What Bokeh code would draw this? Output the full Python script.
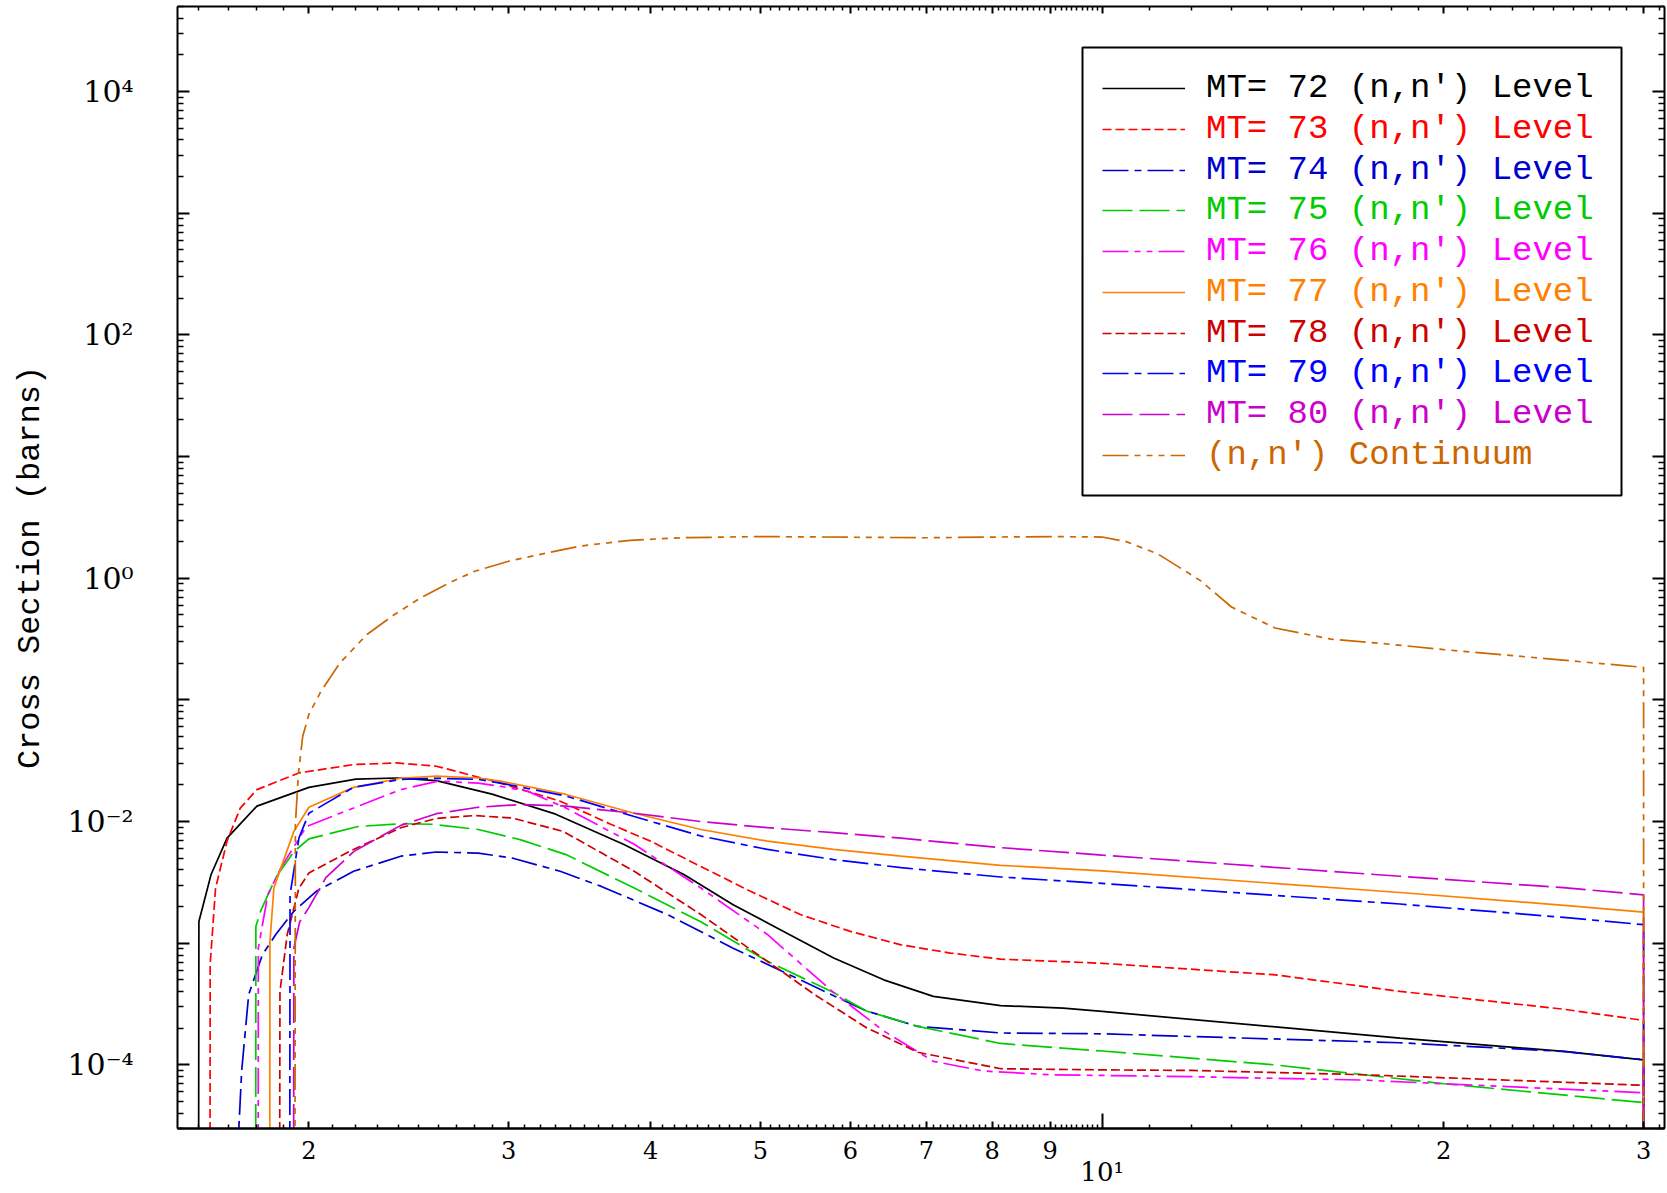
from bokeh.plotting import figure
from bokeh.models import (Range1d, LogAxis, FixedTicker, Legend, LegendItem,
                          BoxAnnotation)
from bokeh.embed import file_html
from bokeh.resources import INLINE

# ---------------- data ----------------
mt72_x = [1.598, 1.600, 1.640, 1.694, 1.80, 2.00, 2.20, 2.39, 2.59, 2.90, 3.30, 3.79, 4.28, 4.73, 5.24, 5.80, 6.42, 7.10, 8.14, 9.24, 10.0, 18.3, 25.5, 30.0, 30.0]
mt72_y = [1e-7, 1.51e-3, 3.67e-3, 7.3e-3, 1.34e-2, 1.91e-2, 2.23e-2, 2.28e-2, 2.17e-2, 1.68e-2, 1.15e-2, 6.47e-3, 3.67e-3, 2.07e-3, 1.25e-3, 7.55e-4, 5.0e-4, 3.66e-4, 3.07e-4, 2.93e-4, 2.75e-4, 1.66e-4, 1.29e-4, 1.1e-4, 1e-7]

mt73_x = [1.636, 1.637, 1.655, 1.694, 1.74, 1.80, 1.96, 2.19, 2.39, 2.59, 2.91, 3.33, 3.69, 4.0, 4.43, 4.9, 5.42, 6.0, 6.65, 7.35, 8.14, 10.0, 14.2, 18.3, 25.5, 30.0, 30.0]
mt73_y = [1e-7, 6.7e-4, 2.84e-3, 6.9e-3, 1.29e-2, 1.83e-2, 2.51e-2, 2.94e-2, 3.03e-2, 2.85e-2, 2.15e-2, 1.47e-2, 9.5e-3, 6.9e-3, 4.27e-3, 2.67e-3, 1.72e-3, 1.25e-3, 9.7e-4, 8.3e-4, 7.4e-4, 6.84e-4, 5.5e-4, 4.02e-4, 2.87e-4, 2.32e-4, 1e-7]

mt74_x = [1.733, 1.735, 1.745, 1.77, 1.82, 1.87, 1.94, 2.03, 2.19, 2.41, 2.59, 2.82, 3.02, 3.33, 3.62, 4.14, 4.73, 5.24, 5.80, 6.20, 6.88, 8.14, 10.0, 18.3, 25.5, 30.0, 30.0]
mt74_y = [1e-7, 3e-5, 8.9e-5, 3.78e-4, 8.05e-4, 1.18e-3, 1.83e-3, 2.67e-3, 3.9e-3, 5.19e-3, 5.62e-3, 5.5e-3, 5.02e-3, 3.9e-3, 2.93e-3, 1.72e-3, 9.1e-4, 5.8e-4, 3.7e-4, 2.77e-4, 2.07e-4, 1.83e-4, 1.8e-4, 1.52e-4, 1.29e-4, 1.1e-4, 1e-7]

mt75_x = [1.795, 1.796, 1.813, 1.87, 1.94, 2.00, 2.21, 2.41, 2.57, 2.82, 3.07, 3.37, 3.87, 4.43, 5.07, 5.80, 6.20, 6.88, 8.14, 10.0, 14.2, 17.0, 20.0, 30.0, 30.0]
mt75_y = [1e-7, 1.37e-3, 1.83e-3, 3.46e-3, 5.66e-3, 7.2e-3, 9.1e-3, 9.6e-3, 9.5e-3, 8.6e-3, 7.1e-3, 5.35e-3, 2.84e-3, 1.5e-3, 7.1e-4, 3.93e-4, 2.77e-4, 2.07e-4, 1.5e-4, 1.3e-4, 1.0e-4, 8.3e-5, 7.0e-5, 4.9e-5, 1e-7]

mt76_x = [1.804, 1.805, 1.84, 1.89, 1.99, 2.17, 2.41, 2.60, 2.82, 2.95, 3.12, 3.37, 3.87, 4.43, 5.07, 5.80, 6.42, 7.10, 7.86, 9.0, 12.0, 17.0, 20.0, 30.0, 30.0]
mt76_y = [1e-7, 9.1e-4, 2.5e-3, 4.18e-3, 9.1e-3, 1.25e-2, 1.83e-2, 2.15e-2, 2.07e-2, 1.95e-2, 1.77e-2, 1.29e-2, 6.5e-3, 2.84e-3, 1.18e-3, 3.93e-4, 1.9e-4, 1.07e-4, 8.9e-5, 8.3e-5, 8.0e-5, 7.5e-5, 7.0e-5, 5.9e-5, 1e-7]

mt77_x = [1.847, 1.848, 1.863, 1.89, 1.94, 2.00, 2.19, 2.41, 2.59, 2.82, 2.95, 3.37, 3.87, 4.43, 5.07, 5.80, 6.65, 8.14, 10.0, 18.3, 25.7, 30.0, 30.0]
mt77_y = [1e-7, 1.03e-3, 2.84e-3, 4.18e-3, 8.3e-3, 1.31e-2, 1.91e-2, 2.27e-2, 2.36e-2, 2.28e-2, 2.15e-2, 1.67e-2, 1.17e-2, 8.6e-3, 6.9e-3, 5.9e-3, 5.2e-3, 4.37e-3, 3.93e-3, 2.61e-3, 2.04e-3, 1.8e-3, 1e-7]

mt78_x = [1.883, 1.886, 1.914, 1.96, 2.00, 2.17, 2.41, 2.59, 2.80, 3.02, 3.35, 3.87, 4.43, 5.07, 5.60, 6.20, 6.88, 8.14, 10.0, 12.0, 17.0, 30.0, 30.0]
mt78_y = [1e-7, 4e-4, 1.18e-3, 2.84e-3, 3.78e-3, 5.66e-3, 8.9e-3, 1.06e-2, 1.12e-2, 1.07e-2, 8.3e-3, 3.9e-3, 1.72e-3, 7.1e-4, 3.7e-4, 2.02e-4, 1.27e-4, 9.3e-5, 9.1e-5, 9.0e-5, 8.3e-5, 6.8e-5, 1e-7]

mt79_x = [1.923, 1.925, 1.96, 2.00, 2.19, 2.41, 2.59, 2.82, 2.95, 3.37, 3.87, 4.43, 5.07, 5.80, 6.65, 8.14, 10.0, 18.3, 25.5, 30.0, 30.0]
mt79_y = [1e-7, 2.5e-3, 7.3e-3, 1.17e-2, 1.91e-2, 2.22e-2, 2.27e-2, 2.22e-2, 2.07e-2, 1.62e-2, 1.10e-2, 7.6e-3, 5.9e-3, 4.87e-3, 4.18e-3, 3.5e-3, 3.1e-3, 2.1e-3, 1.63e-3, 1.42e-3, 1e-7]

mt80_x = [1.938, 1.940, 1.963, 2.00, 2.07, 2.19, 2.41, 2.59, 2.82, 3.07, 3.37, 3.87, 4.43, 5.07, 5.80, 6.65, 8.14, 10.0, 18.3, 25.5, 30.0, 30.0]
mt80_y = [1e-7, 9.1e-4, 1.5e-3, 1.96e-3, 3.46e-3, 5.66e-3, 9.3e-3, 1.16e-2, 1.31e-2, 1.38e-2, 1.34e-2, 1.17e-2, 1.0e-2, 8.9e-3, 8.1e-3, 7.3e-3, 6.1e-3, 5.3e-3, 3.55e-3, 2.86e-3, 2.5e-3, 1e-7]

cont_x = [1.943, 1.946, 1.958, 1.975, 2.00, 2.05, 2.13, 2.25, 2.38, 2.51, 2.66, 2.80, 3.00, 3.25, 3.47, 3.84, 4.25, 5.0, 7.0, 9.0, 10.0, 10.5, 11.2, 12.2, 13.0, 14.2, 15.9, 17.7, 20.0, 24.4, 30.0, 30.0]
cont_y = [1e-7, 9.5e-3, 2.5e-2, 5.0e-2, 7.6e-2, 0.118, 0.201, 0.345, 0.504, 0.69, 0.917, 1.14, 1.38, 1.62, 1.84, 2.05, 2.15, 2.2, 2.15, 2.2, 2.18, 2.0, 1.58, 0.96, 0.58, 0.39, 0.316, 0.29, 0.259, 0.22, 0.185, 1e-7]

series_labels = ["MT= 72 (n,n') Level", "MT= 73 (n,n') Level", "MT= 74 (n,n') Level",
                 "MT= 75 (n,n') Level", "MT= 76 (n,n') Level", "MT= 77 (n,n') Level",
                 "MT= 78 (n,n') Level", "MT= 79 (n,n') Level", "MT= 80 (n,n') Level",
                 "(n,n') Continuum"]
series_x = [mt72_x, mt73_x, mt74_x, mt75_x, mt76_x, mt77_x, mt78_x, mt79_x, mt80_x, cont_x]
series_y = [mt72_y, mt73_y, mt74_y, mt75_y, mt76_y, mt77_y, mt78_y, mt79_y, mt80_y, cont_y]
series_colors = ["#000000", "#FF0000", "#0000CC", "#00CC00", "#FF00FF",
                 "#FF8000", "#CC0000", "#0000FF", "#CC00CC", "#CC6600"]
series_dash = ["solid", "9 4", "26 6 7 6", "30 7", "26 6 6 6 6 6",
               "solid", "9 4", "26 6 7 6", "30 7", "26 6 6 6 6 6 6 6"]

x_major = [2, 3, 4, 5, 6, 7, 8, 9, 20, 30]
x_major_labels = ["2", "3", "4", "5", "6", "7", "8", "9", "2", "3"]
x_decade = [10]
x_decade_label = "10¹"
x_minor = ([round(v * 0.1, 1) for v in range(16, 20)] +
           [round(d + k * 0.1, 1) for d in range(2, 10) for k in range(1, 10)] +
           [v for v in range(11, 20)] + [v for v in range(21, 30)] + [31])
y_major = [float("1e%d" % n) for n in range(-4, 5)]
y_major_labels = {-4: "10⁻⁴", -2: "10⁻²", 0: "10⁰", 2: "10²", 4: "10⁴"}
y_minor = [k * float("1e%d" % n) for n in range(-5, 5) for k in range(2, 10)
           if 3e-5 <= k * float("1e%d" % n) <= 5e4]

FONT_TICK = "DejaVu Serif"
FONT_TEXT = "Liberation Mono"

p = figure(width=1667, height=1193, x_axis_type="log", y_axis_type="log",
           x_range=Range1d(1.532, 31.3), y_range=Range1d(3e-5, 5e4),
           x_axis_location=None, y_axis_location=None,
           toolbar_location=None, output_backend="svg",
           min_border_left=177, min_border_right=3, min_border_top=6,
           min_border_bottom=65)
p.outline_line_color = None
p.background_fill_color = "white"
p.border_fill_color = "white"
for g in p.grid:
    g.visible = False


def style_axis(ax, major_in, minor_in, label_size, standoff):
    ax.axis_line_color = "black"
    ax.axis_line_width = 2
    ax.major_tick_in = major_in
    ax.major_tick_out = 0
    ax.minor_tick_in = minor_in
    ax.minor_tick_out = 0
    ax.major_tick_line_color = "black"
    ax.major_tick_line_width = 2
    ax.minor_tick_line_color = "black"
    ax.minor_tick_line_width = 1.5
    ax.major_label_text_font = FONT_TICK
    ax.major_label_text_font_size = label_size
    ax.major_label_text_color = "black"
    ax.major_label_standoff = standoff


# bottom: long decade tick (no label, no size)
ax_dec = LogAxis(ticker=FixedTicker(ticks=x_decade, minor_ticks=[]))
style_axis(ax_dec, 15, 0, "0px", 0)
ax_dec.major_label_overrides = {10: ""}
p.add_layout(ax_dec, "below")

# bottom: labelled integer ticks
ax_bot = LogAxis(ticker=FixedTicker(ticks=x_major, minor_ticks=x_minor))
style_axis(ax_bot, 7, 4, "24px", 12)
ax_bot.major_label_overrides = {t: l for t, l in zip(x_major, x_major_labels)}
p.add_layout(ax_bot, "below")

# bottom: decade label row ("10¹")
ax_lab = LogAxis(ticker=FixedTicker(ticks=x_decade, minor_ticks=[]))
style_axis(ax_lab, 0, 0, "26px", -5)
ax_lab.axis_line_color = None
ax_lab.major_tick_line_color = None
ax_lab.minor_tick_line_color = None
ax_lab.major_label_overrides = {10: x_decade_label}
p.add_layout(ax_lab, "below")

ax_top = LogAxis(ticker=FixedTicker(ticks=x_major + x_decade, minor_ticks=x_minor))
style_axis(ax_top, 7, 4, "0px", 0)
ax_top.major_label_overrides = {t: "" for t in x_major + x_decade}
p.add_layout(ax_top, "above")

ax_left = LogAxis(ticker=FixedTicker(ticks=y_major, minor_ticks=y_minor))
style_axis(ax_left, 12, 6, "30px", 44)
ax_left.major_label_overrides = {v: y_major_labels.get(n, "")
                                 for v, n in zip(y_major, range(-4, 5))}
ax_left.axis_label = "Cross Section (barns)"
ax_left.axis_label_text_font = FONT_TEXT
ax_left.axis_label_text_font_size = "32px"
ax_left.axis_label_text_font_style = "normal"
ax_left.axis_label_text_color = "black"
ax_left.axis_label_standoff = 15
p.add_layout(ax_left, "left")

ax_right = LogAxis(ticker=FixedTicker(ticks=y_major, minor_ticks=y_minor))
style_axis(ax_right, 12, 6, "0px", 0)
ax_right.major_label_overrides = {v: "" for v in y_major}
p.add_layout(ax_right, "right")

# legend frame
p.add_layout(BoxAnnotation(left=905, right=1444, top=1081, bottom=633,
                           left_units="screen", right_units="screen",
                           top_units="screen", bottom_units="screen",
                           fill_color="white", fill_alpha=1.0,
                           line_color="black", line_alpha=1.0, line_width=2,
                           level="annotation"))

renderers = []
for xs, ys, c, d in zip(series_x, series_y, series_colors, series_dash):
    r = p.line(xs, ys, line_color=c, line_width=1.7, line_dash=d)
    renderers.append(r)

for i, (lab, r, c) in enumerate(zip(series_labels, renderers, series_colors)):
    leg = Legend(items=[LegendItem(label=lab, renderers=[r])],
                 location=(925, 1019.7 - 40.7 * i),
                 orientation="vertical", padding=0, margin=0, spacing=0,
                 border_line_alpha=0, background_fill_alpha=0,
                 glyph_width=83, glyph_height=40, label_height=40,
                 label_standoff=21, label_text_font=FONT_TEXT,
                 label_text_font_size="34px", label_text_color=c)
    p.add_layout(leg, "center")

open("out.html", "w").write(file_html(p, INLINE))
